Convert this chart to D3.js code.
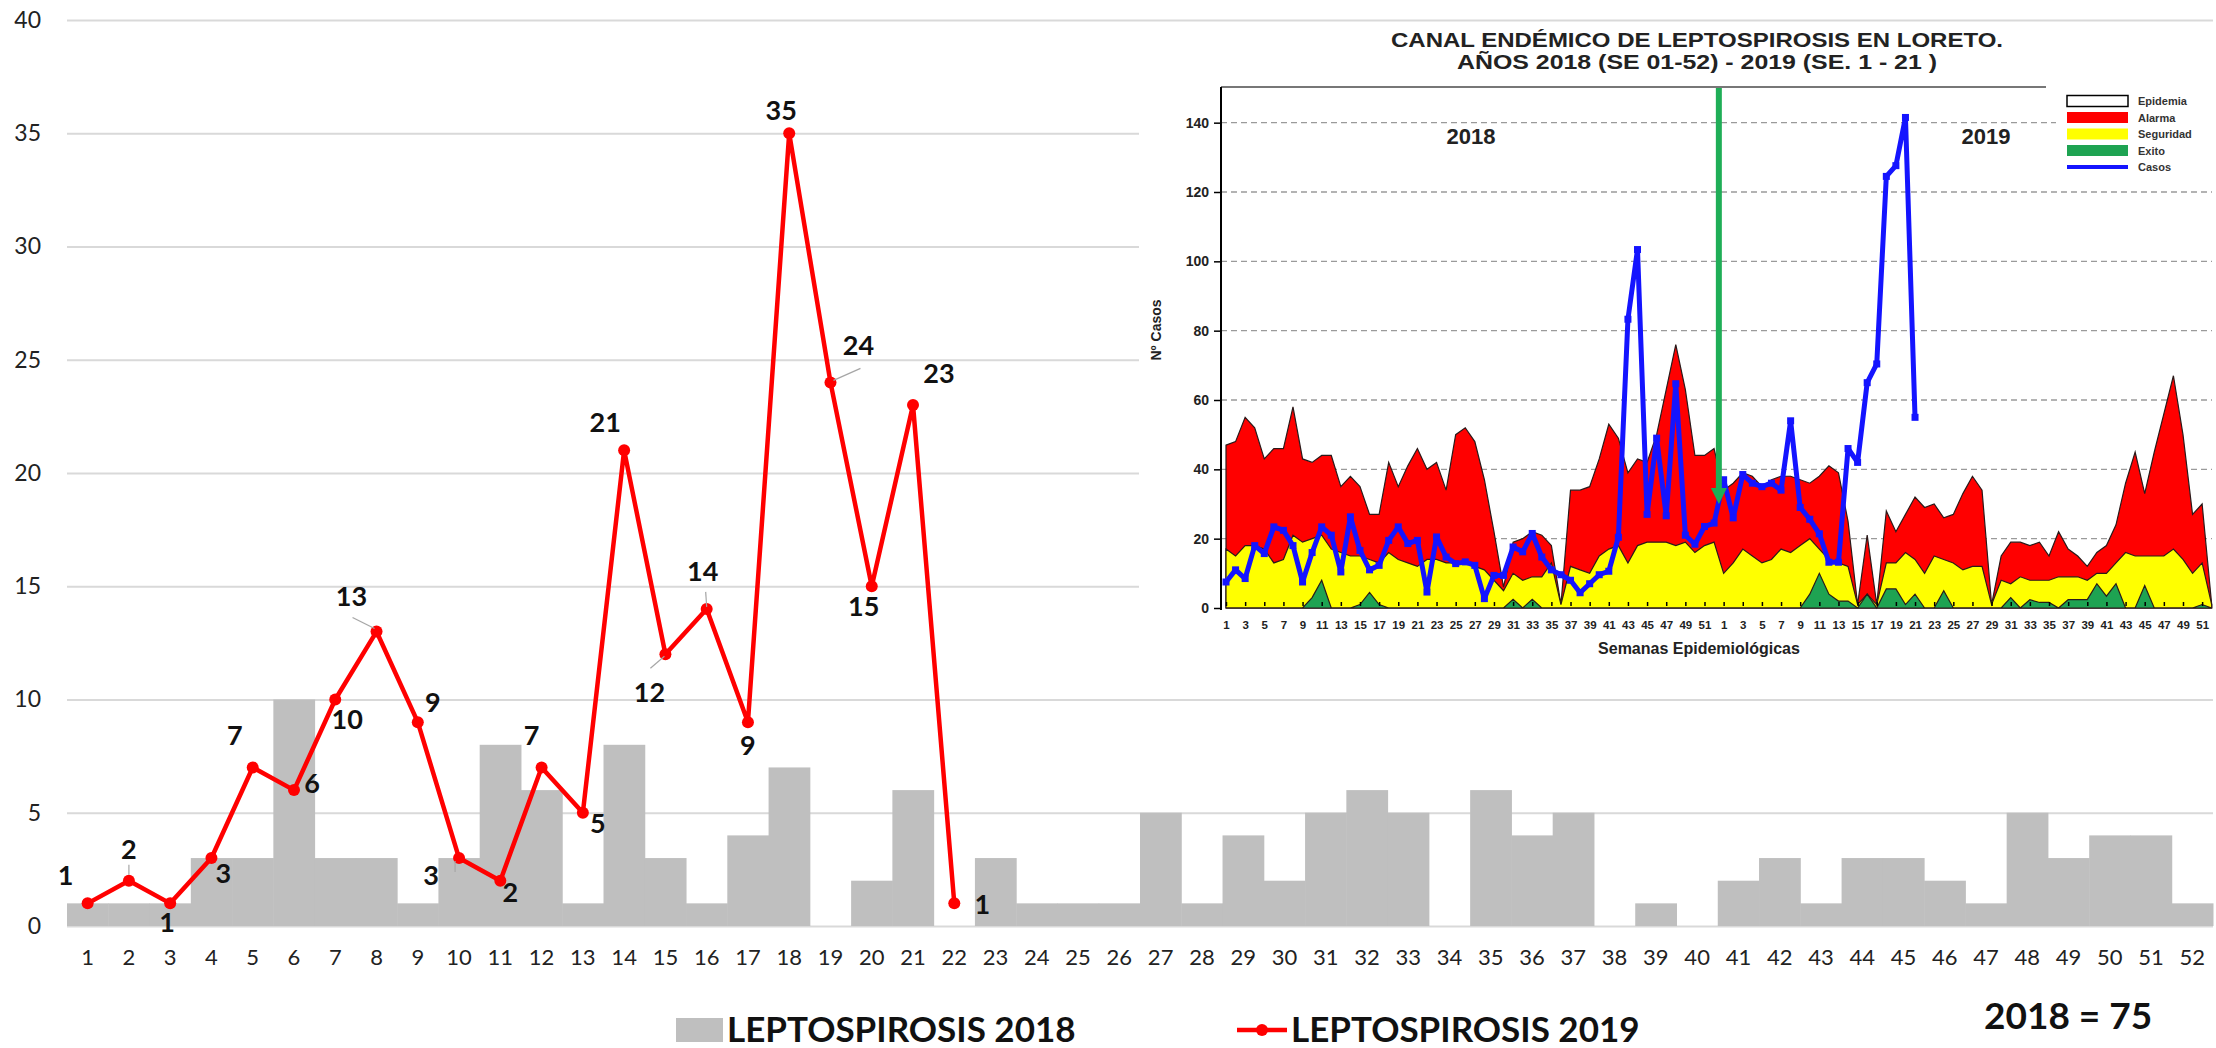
<!DOCTYPE html>
<html>
<head>
<meta charset="utf-8">
<script src="https://cdn.jsdelivr.net/npm/d3@7"></script>
<style>
    body { margin: 0; background: #fff; }
    svg { display: block; }
    .main text { font-family: Lato, "Open Sans", sans-serif; }
    .canal text { font-family: "Liberation Sans", Arial, sans-serif; font-weight: bold; }
</style>
</head>
<body>
<div id="chart"></div>
<script>

// ---- main chart data (semanas 1-52) ----
let weeks = d3.range(1, 53)
let cases2018 = [1, 1, 1, 3, 3, 10, 3, 3, 1, 3, 8, 6, 1, 8, 3, 1, 4, 7, 0, 2, 6, 0, 3, 1, 1, 1,
    5, 1, 4, 2, 5, 6, 5, 0, 6, 4, 5, 0, 1, 0, 2, 3, 1, 3, 3, 2, 1, 5, 3, 4, 4, 1]
let weeks2019 = d3.range(1, 23)
let cases2019 = [1, 2, 1, 3, 7, 6, 10, 13, 9, 3, 2, 7, 5, 21, 12, 14, 9, 35, 24, 15, 23, 1]
let yTicks = [0, 5, 10, 15, 20, 25, 30, 35, 40]
let seriesNames = ["LEPTOSPIROSIS 2018", "LEPTOSPIROSIS 2019"]
let totalNote = "2018 = 75"

// label placement for 2019 values (dx, dy from the point)
let labelOffsets = [[-22, -28], [0, -31], [-3, 19], [12, 15], [-18, -32], [18, -7], [12, 20], [-25, -35],
    [15, -20], [-28, 17], [10, 12], [-10, -32], [15, 11], [-19, -28], [-16, 38], [-4, -38], [0, 23],
    [-8, -23], [28, -37], [-8, 20], [26, -32], [28, 1]]
// little leader lines: week -> [x1, y1, x2, y2] relative to the point
let leaders = {2: [0, -6, 0, -16], 8: [-24, -14, -2, -3], 10: [-4, 3, -4, 14], 15: [-15, 14, -1, 2],
    16: [-1, -17, 0, -2], 19: [30, -14, 3, -2]}

// ---- canal endemico data (104 weeks: 2018 SE 1-52, 2019 SE 1-52) ----
let canalWeeks = d3.range(1, 105)
let alarma = [47, 48, 55, 52, 43, 46, 46, 58, 43, 42, 44, 44, 35, 38, 35, 27, 27, 42, 35, 41, 46, 40, 42, 34, 50, 52,
    48, 37, 22, 6, 19, 20, 22, 21, 18, 1, 34, 34, 35, 43, 53, 49, 39, 43, 42, 50, 63, 76, 63, 44, 44, 46,
    34, 36, 39, 38, 35, 37, 38, 38, 37, 36, 38, 41, 39, 25, 1, 21, 1, 28, 22, 27, 32, 29, 30, 26,
    27, 33, 38, 34, 1, 15, 19, 19, 18, 19, 15, 22, 17, 15, 12, 16, 18, 24, 36, 45, 33, 45, 56, 67, 50, 27, 30, 1]
let seguridad = [17, 15, 18, 18, 17, 13, 14, 21, 19, 20, 21, 17, 16, 15, 15, 14, 13, 16, 14, 13, 12, 14, 14, 13, 13, 13,
    12, 11, 8, 5, 10, 8, 9, 9, 13, 1, 12, 11, 10, 15, 17, 18, 13, 18, 19, 19, 19, 18, 19, 16, 18, 19,
    10, 13, 17, 15, 13, 14, 17, 16, 18, 20, 17, 14, 13, 12, 1, 4, 1, 13, 13, 16, 14, 10, 15, 14,
    13, 11, 12, 12, 1, 8, 7, 9, 8, 8, 8, 9, 9, 9, 8, 10, 10, 13, 16, 15, 15, 15, 15, 17, 14, 10, 13, 1]
let exito = [0, 0, 0, 0, 0, 0, 0, 0, 0, 3, 8, 0, 0, 0, 1, 4.5, 1, 0, 0, 0, 0, 0, 0, 0, 0, 0,
    0, 0, 0, 0, 2.5, 0, 2.5, 0, 0, 0, 0, 0, 0, 0, 0, 0, 0, 0, 0, 0, 0, 0, 0, 0, 0, 0,
    0, 0, 0, 0, 0, 0, 0, 0, 0, 4, 10, 4, 2, 2, 0, 4, 0, 5.5, 5.5, 1, 4, 0, 0, 5,
    0, 0, 0, 0, 0, 0, 3, 0, 2.4, 1.6, 1.6, 0, 2.4, 2.4, 2.4, 7, 3.4, 7, 0, 0, 6.5, 0, 0, 0, 0, 0, 1, 0]
let casos = [7.5, 11, 8.5, 18, 15.7, 23.4, 22.4, 18, 7.5, 16, 23.4, 21, 10.4, 26.3, 16.6, 11, 12.3, 19.5, 23.4, 18.6,
    19.5, 4.6, 20.5, 14.7, 12.8, 13.3, 12.3, 2.7, 9.4, 9.4, 17.6, 16.2, 21.5, 14.7, 11, 9.6, 8, 4.4, 7, 9.6,
    10.6, 20.4, 83.3, 103.4, 27, 49, 26.6, 64.7, 21, 18.4, 23.5, 24.5,
    37, 26, 38.5, 36, 35, 36, 34, 54, 29, 25.6, 21.4, 13.2, 13.2, 46, 42, 65, 70.4, 124.5, 127.6, 141.5, 55]
let canalYTicks = [0, 20, 40, 60, 80, 100, 120, 140]
let canalXTicks = d3.range(1, 105, 2)
let canalTitle = ["CANAL ENDÉMICO DE LEPTOSPIROSIS EN LORETO.", "AÑOS 2018 (SE 01-52) - 2019 (SE. 1 - 21 )"]
let canalLegend = ["Epidemia", "Alarma", "Seguridad", "Exito", "Casos"]
let arrowWeek = 52.5
let arrowValue = 30


let svg = d3.select("#chart").append("svg")
    .attr("width", 2216)
    .attr("height", 1048)

drawMain()
drawCanal()


function drawMain() {
    let g = svg.append("g").attr("class", "main")

    let x = d3.scaleBand().domain(weeks).range([67, 2213]).padding(0)
    let y = d3.scaleLinear().domain([0, 40]).range([926, 20])
    let bw = x.bandwidth()

    // gridlines
    g.append("g")
        .attr("transform", "translate(67,0)")
        .call(d3.axisLeft(y).tickValues(yTicks).tickSize(-(2213 - 67)).tickFormat(""))
        .call(a => a.select(".domain").remove())
        .selectAll("line").attr("stroke", "#d9d9d9").attr("stroke-width", 2)

    // y labels
    g.append("g")
        .attr("transform", "translate(67,0)")
        .call(d3.axisLeft(y).tickValues(yTicks).tickSize(0).tickPadding(26))
        .call(a => a.select(".domain").remove())
        .selectAll("text").attr("font-size", 23).attr("fill", "#222")

    // x labels
    g.append("g")
        .attr("transform", "translate(0,926)")
        .call(d3.axisBottom(x).tickSize(0).tickPadding(23))
        .call(a => a.select(".domain").remove())
        .selectAll("text").attr("font-size", 22).attr("fill", "#222")

    // 2018 bars
    g.selectAll(".bar")
        .data(weeks)
        .enter().append("rect")
        .attr("class", "bar")
        .attr("x", d => x(d))
        .attr("width", bw + 0.5)
        .attr("y", (d, i) => y(cases2018[i]))
        .attr("height", (d, i) => y(0) - y(cases2018[i]))
        .attr("fill", "#bfbfbf")

    // 2019 line
    let pts = weeks2019.map((w, i) => ({week: w, value: cases2019[i], off: labelOffsets[i]}))
    let line = d3.line()
        .x(d => x(d.week) + bw / 2)
        .y(d => y(d.value))

    g.append("path")
        .datum(pts)
        .attr("d", line)
        .attr("fill", "none")
        .attr("stroke", "#ff0000")
        .attr("stroke-width", 4.5)
        .attr("stroke-linejoin", "round")

    g.selectAll(".dot")
        .data(pts)
        .enter().append("circle")
        .attr("class", "dot")
        .attr("cx", d => x(d.week) + bw / 2)
        .attr("cy", d => y(d.value))
        .attr("r", 6)
        .attr("fill", "#ff0000")

    // leader lines
    pts.filter(d => leaders[d.week]).forEach(d => {
        let l = leaders[d.week]
        let px = x(d.week) + bw / 2, py = y(d.value)
        g.append("line")
            .attr("x1", px + l[0]).attr("y1", py + l[1])
            .attr("x2", px + l[2]).attr("y2", py + l[3])
            .attr("stroke", "#a6a6a6").attr("stroke-width", 1.2)
    })

    g.selectAll(".lbl")
        .data(pts)
        .enter().append("text")
        .attr("class", "lbl")
        .attr("x", d => x(d.week) + bw / 2 + d.off[0])
        .attr("y", d => y(d.value) + d.off[1])
        .attr("dy", "0.36em")
        .attr("text-anchor", "middle")
        .attr("font-size", 27)
        .attr("font-weight", "bold")
        .attr("fill", "#111")
        .text(d => d.value)

    // legend
    let leg = g.append("g")
    leg.append("rect").attr("x", 676).attr("y", 1018).attr("width", 47).attr("height", 24).attr("fill", "#bfbfbf")
    leg.append("text").attr("x", 727).attr("y", 1042).attr("font-size", 35).attr("font-weight", "bold")
        .attr("fill", "#111").text(seriesNames[0])
    leg.append("line").attr("x1", 1237).attr("x2", 1287).attr("y1", 1030).attr("y2", 1030)
        .attr("stroke", "#ff0000").attr("stroke-width", 4.5)
    leg.append("circle").attr("cx", 1262).attr("cy", 1030).attr("r", 6).attr("fill", "#ff0000")
    leg.append("text").attr("x", 1291).attr("y", 1042).attr("font-size", 35).attr("font-weight", "bold")
        .attr("fill", "#111").text(seriesNames[1])

    g.append("text").attr("x", 1984).attr("y", 1029).attr("font-size", 37).attr("font-weight", "bold")
        .attr("fill", "#111").text(totalNote)
}


function drawCanal() {
    let g = svg.append("g").attr("class", "canal")

    // white panel over the main chart
    g.append("rect").attr("x", 1139).attr("y", 24).attr("width", 1077).attr("height", 668).attr("fill", "#fff")

    let cx = d3.scaleLinear().domain([1, 104]).range([1226, 2211.7])
    let cy = d3.scaleLinear().domain([0, 150]).range([608, 88])

    // title (the original is a stretched bitmap, so widen to fit)
    let titleWidths = [612, 480]
    g.selectAll(".ttl")
        .data(canalTitle)
        .enter().append("text")
        .attr("class", "ttl")
        .attr("x", 1697)
        .attr("y", (d, i) => 47 + i * 22)
        .attr("text-anchor", "middle")
        .attr("font-size", 21)
        .attr("textLength", (d, i) => titleWidths[i])
        .attr("lengthAdjust", "spacingAndGlyphs")
        .attr("fill", "#222")
        .text(d => d)

    // dashed gridlines
    g.selectAll(".cgrid")
        .data(canalYTicks.filter(d => d > 0))
        .enter().append("line")
        .attr("class", "cgrid")
        .attr("x1", 1221).attr("x2", 2212)
        .attr("y1", d => cy(d)).attr("y2", d => cy(d))
        .attr("stroke", "#9a9a9a").attr("stroke-width", 1.3).attr("stroke-dasharray", "6,4")

    // endemic channel bands (each drawn from zero)
    let area = d3.area()
        .x((d, i) => cx(canalWeeks[i]))
        .y0(cy(0))
        .y1(d => cy(d))

    let bands = [[alarma, "#ff0000"], [seguridad, "#ffff00"], [exito, "#1ea352"]]
    bands.forEach(b => {
        g.append("path")
            .datum(b[0])
            .attr("d", area)
            .attr("fill", b[1])
            .attr("stroke", "#2a1a1a")
            .attr("stroke-width", 1.2)
    })

    // casos line
    let caseLine = d3.line()
        .x((d, i) => cx(canalWeeks[i]))
        .y(d => cy(d))
    g.append("path")
        .datum(casos)
        .attr("d", caseLine)
        .attr("fill", "none")
        .attr("stroke", "#1414ff")
        .attr("stroke-width", 5)
        .attr("stroke-linejoin", "round")
    g.selectAll(".cdot")
        .data(casos)
        .enter().append("rect")
        .attr("class", "cdot")
        .attr("x", (d, i) => cx(canalWeeks[i]) - 3.5)
        .attr("y", d => cy(d) - 3.5)
        .attr("width", 7).attr("height", 7)
        .attr("fill", "#1414ff")

    // green arrow between the two years
    let ax = cx(arrowWeek)
    g.append("line")
        .attr("x1", ax).attr("x2", ax)
        .attr("y1", cy(150)).attr("y2", cy(arrowValue) - 14)
        .attr("stroke", "#1fae57").attr("stroke-width", 6)
    g.append("path")
        .attr("d", `M${ax - 8},${cy(arrowValue) - 16}L${ax + 8},${cy(arrowValue) - 16}L${ax},${cy(arrowValue)}Z`)
        .attr("fill", "#1fae57")

    // axes frame
    g.append("line").attr("x1", 1221).attr("x2", 2046).attr("y1", 87).attr("y2", 87)
        .attr("stroke", "#777").attr("stroke-width", 2)
    g.append("line").attr("x1", 1221).attr("x2", 1221).attr("y1", 87).attr("y2", 610)
        .attr("stroke", "#000").attr("stroke-width", 2)

    g.append("g")
        .attr("transform", "translate(1221,0)")
        .call(d3.axisLeft(cy).tickValues(canalYTicks).tickSize(7).tickPadding(5))
        .call(a => a.select(".domain").remove())
        .call(a => a.selectAll("line").attr("stroke", "#000").attr("stroke-width", 1.5))
        .selectAll("text").attr("font-size", 14).attr("fill", "#222").attr("font-weight", "bold")

    g.append("g")
        .attr("transform", "translate(0,608)")
        .call(d3.axisBottom(cx).tickValues(canalXTicks).tickSize(4).tickPadding(9)
            .tickFormat(d => (d - 1) % 52 + 1))
        .call(a => a.select(".domain").remove())
        .call(a => a.selectAll("line").attr("stroke", "#000").attr("stroke-width", 1.5).attr("transform", "translate(0,-6)"))
        .selectAll("text").attr("font-size", 11.5).attr("fill", "#222").attr("font-weight", "bold")

    g.append("text").attr("x", 1699).attr("y", 654).attr("text-anchor", "middle")
        .attr("font-size", 16).attr("fill", "#222").text("Semanas Epidemiológicas")
    g.append("text").attr("transform", "translate(1161,330) rotate(-90)").attr("text-anchor", "middle")
        .attr("font-size", 14).attr("fill", "#222").text("Nº Casos")

    g.append("text").attr("x", 1471).attr("y", 144).attr("text-anchor", "middle")
        .attr("font-size", 22).attr("fill", "#222").text("2018")
    g.append("text").attr("x", 1986).attr("y", 144).attr("text-anchor", "middle")
        .attr("font-size", 22).attr("fill", "#222").text("2019")

    // legend
    let leg = g.append("g")
    leg.append("rect").attr("x", 2056).attr("y", 90).attr("width", 158).attr("height", 86)
        .attr("fill", "#fff")
    let legColors = ["#fff", "#ff0000", "#ffff00", "#1ea352", "#1414ff"]
    canalLegend.forEach((name, i) => {
        let yy = 101 + i * 16.5
        if (i < 4) {
            leg.append("rect").attr("x", 2067).attr("y", yy - 5.5).attr("width", 61).attr("height", 11)
                .attr("fill", legColors[i]).attr("stroke", i === 0 ? "#000" : "none").attr("stroke-width", 1.5)
        } else {
            leg.append("line").attr("x1", 2067).attr("x2", 2128).attr("y1", yy).attr("y2", yy)
                .attr("stroke", legColors[i]).attr("stroke-width", 4)
        }
        leg.append("text").attr("x", 2138).attr("y", yy + 4).attr("font-size", 11)
            .attr("fill", "#333").text(name)
    })
}

</script>
</body>
</html>
